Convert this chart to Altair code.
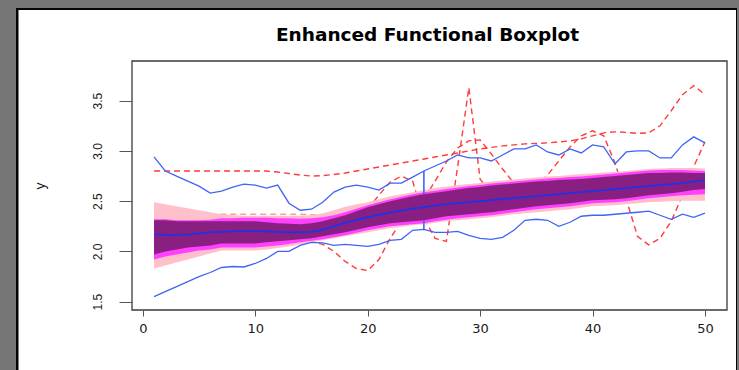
import altair as alt
import pandas as pd

title_text = ["Enhanced Functional Boxplot"]

x_vals = list(range(1, 51))

upper_whisker = [2.94, 2.80, 2.75, 2.70, 2.65, 2.58, 2.60, 2.64, 2.67, 2.66,
                 2.63, 2.66, 2.48, 2.41, 2.42, 2.49, 2.59, 2.64, 2.66, 2.64,
                 2.61, 2.68, 2.68, 2.74, 2.80, 2.85, 2.90, 2.96, 2.93, 2.93,
                 2.90, 2.96, 3.02, 3.02, 3.06, 2.99, 2.96, 3.02, 2.98, 3.06,
                 3.04, 2.87, 2.99, 3.00, 3.00, 2.93, 2.93, 3.06, 3.14, 3.08]
lower_whisker = [1.55, 1.60, 1.65, 1.70, 1.75, 1.79, 1.84, 1.85, 1.845, 1.88,
                 1.93, 2.00, 2.00, 2.06, 2.09, 2.085, 2.06, 2.07, 2.06, 2.05,
                 2.07, 2.11, 2.12, 2.21, 2.22, 2.19, 2.19, 2.20, 2.16, 2.13,
                 2.12, 2.14, 2.21, 2.31, 2.32, 2.31, 2.25, 2.29, 2.35, 2.36,
                 2.36, 2.37, 2.38, 2.39, 2.40, 2.36, 2.32, 2.37, 2.34, 2.38]
median = [2.17, 2.165, 2.165, 2.17, 2.18, 2.19, 2.195, 2.20, 2.205, 2.205,
          2.20, 2.195, 2.19, 2.19, 2.195, 2.215, 2.25, 2.285, 2.315, 2.34,
          2.365, 2.385, 2.405, 2.425, 2.44, 2.455, 2.47, 2.48, 2.49, 2.50,
          2.51, 2.52, 2.53, 2.54, 2.55, 2.56, 2.57, 2.58, 2.59, 2.60,
          2.61, 2.62, 2.63, 2.64, 2.65, 2.66, 2.67, 2.68, 2.695, 2.71]

# central regions: 50% (dark), middle (magenta), outer (pink)
dark_top = [2.31, 2.31, 2.30, 2.30, 2.30, 2.30, 2.30, 2.30, 2.30, 2.30,
            2.29, 2.28, 2.275, 2.27, 2.28, 2.30, 2.33, 2.36, 2.40, 2.44,
            2.47, 2.50, 2.525, 2.55, 2.57, 2.585, 2.60, 2.615, 2.63, 2.64,
            2.655, 2.665, 2.675, 2.685, 2.695, 2.70, 2.71, 2.715, 2.72, 2.73,
            2.74, 2.75, 2.76, 2.77, 2.78, 2.78, 2.785, 2.785, 2.78, 2.78]
dark_bot = [1.97, 2.00, 2.02, 2.04, 2.05, 2.06, 2.08, 2.08, 2.08, 2.08,
            2.09, 2.10, 2.11, 2.12, 2.13, 2.15, 2.17, 2.19, 2.215, 2.24,
            2.26, 2.28, 2.29, 2.30, 2.31, 2.33, 2.35, 2.36, 2.37, 2.38,
            2.39, 2.405, 2.42, 2.435, 2.45, 2.46, 2.47, 2.48, 2.495, 2.51,
            2.515, 2.52, 2.53, 2.545, 2.56, 2.57, 2.58, 2.595, 2.61, 2.62]
mag_top = [2.32, 2.32, 2.31, 2.31, 2.31, 2.315, 2.33, 2.33, 2.335, 2.335,
           2.335, 2.33, 2.33, 2.325, 2.33, 2.34, 2.36, 2.39, 2.425, 2.46,
           2.49, 2.52, 2.545, 2.57, 2.59, 2.605, 2.62, 2.635, 2.65, 2.66,
           2.675, 2.685, 2.695, 2.705, 2.715, 2.725, 2.73, 2.74, 2.745, 2.755,
           2.765, 2.775, 2.785, 2.795, 2.805, 2.81, 2.81, 2.81, 2.805, 2.80]
mag_bot = [1.92, 1.95, 1.97, 1.99, 2.01, 2.02, 2.04, 2.04, 2.04, 2.04,
           2.05, 2.06, 2.075, 2.09, 2.105, 2.12, 2.14, 2.16, 2.185, 2.21,
           2.23, 2.25, 2.26, 2.27, 2.28, 2.30, 2.315, 2.33, 2.34, 2.35,
           2.36, 2.375, 2.39, 2.405, 2.42, 2.43, 2.44, 2.45, 2.465, 2.48,
           2.485, 2.49, 2.50, 2.515, 2.53, 2.54, 2.55, 2.56, 2.565, 2.57]
pink_top = [2.49, 2.47, 2.45, 2.43, 2.41, 2.39, 2.37, 2.36, 2.355, 2.355,
            2.355, 2.355, 2.355, 2.355, 2.36, 2.38, 2.41, 2.445, 2.47, 2.49,
            2.52, 2.55, 2.57, 2.59, 2.61, 2.63, 2.645, 2.66, 2.67, 2.68,
            2.695, 2.705, 2.715, 2.725, 2.735, 2.745, 2.75, 2.76, 2.77, 2.775,
            2.785, 2.79, 2.80, 2.81, 2.82, 2.825, 2.83, 2.83, 2.83, 2.825]
pink_bot = [1.83, 1.86, 1.89, 1.92, 1.95, 1.98, 2.01, 2.01, 2.01, 2.01,
            2.02, 2.035, 2.05, 2.07, 2.09, 2.11, 2.13, 2.15, 2.17, 2.19,
            2.21, 2.23, 2.245, 2.26, 2.27, 2.285, 2.30, 2.31, 2.32, 2.33,
            2.34, 2.355, 2.37, 2.38, 2.39, 2.40, 2.41, 2.42, 2.435, 2.45,
            2.455, 2.46, 2.47, 2.48, 2.49, 2.495, 2.50, 2.505, 2.505, 2.505]

# outlying curves (red dashed): start x and values
out_a_start, out_a = 1, [2.80, 2.80, 2.80, 2.80, 2.80, 2.80, 2.80, 2.80, 2.80, 2.80,
                         2.80, 2.79, 2.775, 2.76, 2.75, 2.755, 2.765, 2.78, 2.80, 2.82,
                         2.84, 2.86, 2.88, 2.90, 2.92, 2.94, 2.96, 2.98, 3.00, 3.02,
                         3.035, 3.05, 3.06, 3.07, 3.075, 3.08, 3.09, 3.10, 3.12, 3.15,
                         3.18, 3.19, 3.185, 3.175, 3.18, 3.25, 3.40, 3.56, 3.65, 3.56]
out_b_start, out_b = 14, [2.15, 2.10, 2.07, 2.00, 1.90, 1.83, 1.81, 1.92, 2.13, 2.30,
                          2.42, 2.52, 2.70, 2.89, 3.03, 3.10, 3.11, 2.97, 2.82, 2.68, 2.62]
out_f_start, out_f = 20, [2.42, 2.56, 2.69, 2.75, 2.70, 2.33, 2.13, 2.10, 2.84, 3.63, 2.72, 2.58]
out_c_start, out_c = 33, [2.60, 2.62, 2.66, 2.76, 2.90, 3.04, 3.15, 3.20, 3.15, 2.88,
                          2.52, 2.15, 2.065, 2.13, 2.30, 2.56, 2.845, 3.09]
out_g_start, out_g = 6, [2.365, 2.37, 2.37, 2.37, 2.37, 2.37, 2.37, 2.37, 2.37, 2.365, 2.36]

x_ticks = [0, 10, 20, 30, 40, 50]
y_ticks = [1.5, 2.0, 2.5, 3.0, 3.5]
mid_index = 24  # x = 25

# ---------------- data tables ----------------
bands = pd.DataFrame({"x": x_vals, "dark_top": dark_top, "dark_bot": dark_bot,
                      "mag_top": mag_top, "mag_bot": mag_bot,
                      "pink_top": pink_top, "pink_bot": pink_bot,
                      "median": median})
rows = []
for name, start, vals in [("A", out_a_start, out_a), ("B", out_b_start, out_b),
                          ("F", out_f_start, out_f), ("C", out_c_start, out_c)]:
    for i, v in enumerate(vals):
        rows.append({"curve": name, "x": start + i, "y": v})
outliers = pd.DataFrame(rows)
faint = pd.DataFrame({"x": [out_g_start + i for i in range(len(out_g))], "y": out_g})
wrows = []
for i, x in enumerate(x_vals):
    wrows.append({"w": "upper", "x": x, "y": upper_whisker[i]})
    wrows.append({"w": "lower", "x": x, "y": lower_whisker[i]})
whiskers = pd.DataFrame(wrows)
xm = x_vals[mid_index]
connectors = pd.DataFrame({"x": [xm, xm],
                           "y": [upper_whisker[mid_index], dark_bot[mid_index]],
                           "y2": [dark_top[mid_index], lower_whisker[mid_index]]})
one = pd.DataFrame({"k": [0]})
title_df = pd.DataFrame({"t": title_text})

# ---------------- scales/axes ----------------
W, H = 595, 249
xscale = alt.Scale(domain=[-0.96, 51.96], nice=False, zero=False)
yscale = alt.Scale(domain=[1.417, 3.895], nice=False, zero=False)
xaxis = alt.Axis(values=x_ticks, title=None, domain=False, grid=False,
                 tickSize=6, tickColor="#555555", tickWidth=1,
                 labelFont="DejaVu Sans", labelFontSize=13, labelColor="#1a1a1a",
                 labelPadding=6, zindex=1)
yaxis = alt.Axis(values=y_ticks, format=".1f", title="y", domain=False, grid=False,
                 tickSize=13, tickColor="#555555", tickWidth=1,
                 labelFont="Liberation Sans", labelFontSize=12, labelColor="#1a1a1a",
                 labelAngle=270, labelAlign="center", labelBaseline="bottom",
                 labelPadding=15, titleFont="Liberation Sans", titleFontSize=14,
                 titleFontWeight="normal", titleColor="#1a1a1a", titlePadding=44,
                 zindex=1)


def X(field="x"):
    return alt.X(f"{field}:Q", scale=xscale, axis=xaxis)


def Y(field):
    return alt.Y(f"{field}:Q", scale=yscale, axis=yaxis)


# ---------------- page decoration ----------------
page_border = alt.Chart(one).mark_rect(color="#050505").encode(
    x=alt.value(-116), x2=alt.value(605), y=alt.value(-53), y2=alt.value(309))
page = alt.Chart(one).mark_rect(color="white").encode(
    x=alt.value(-113.5), x2=alt.value(604), y=alt.value(-51), y2=alt.value(309))
frame = alt.Chart(one).mark_rect(fillOpacity=0, stroke="#3a3a3a", strokeWidth=1.3).encode(
    x=alt.value(0), x2=alt.value(W), y=alt.value(0), y2=alt.value(H))
title = alt.Chart(title_df).mark_text(
    font="DejaVu Sans", fontSize=18.5, fontWeight="bold", color="#000000",
    align="center", baseline="alphabetic").encode(
    text="t:N", x=alt.value(W / 2 - 2), y=alt.value(-20))

# ---------------- data layers ----------------
dash = [6, 4]
out_lines = alt.Chart(outliers).mark_line(color="#ff3b3b", strokeWidth=1.4, strokeDash=dash).encode(
    x=X(), y=Y("y"), detail="curve:N")
faint_line = alt.Chart(faint).mark_line(color="#ff5a5a", strokeWidth=1.4, strokeDash=dash, opacity=0.6).encode(
    x=X(), y=Y("y"))
pink = alt.Chart(bands).mark_area(color="#ffc0cb", opacity=1).encode(
    x=X(), y=Y("pink_top"), y2="pink_bot:Q")
mag = alt.Chart(bands).mark_area(color="#ff40ff", opacity=1).encode(
    x=X(), y=Y("mag_top"), y2="mag_bot:Q")
dark = alt.Chart(bands).mark_area(color="#891f80", opacity=1).encode(
    x=X(), y=Y("dark_top"), y2="dark_bot:Q")
med = alt.Chart(bands).mark_line(color="#1f33e6", strokeWidth=1.8).encode(
    x=X(), y=Y("median"))
whisk = alt.Chart(whiskers).mark_line(color="#4064f5", strokeWidth=1.3).encode(
    x=X(), y=Y("y"), detail="w:N")
conn = alt.Chart(connectors).mark_rule(color="#4064f5", strokeWidth=1.6).encode(
    x=X(), y=Y("y"), y2="y2:Q")

chart = alt.layer(
    page_border, page, out_lines, faint_line, pink, mag, dark, whisk, med, conn, frame, title
).properties(
    width=W, height=H,
    padding={"left": 132, "top": 61, "right": 12, "bottom": 60},
    autosize=alt.AutoSizeParams(type="none"),
    background="#767676",
).configure_view(stroke=None)

chart.save("out.html", embed_options={"renderer": "svg", "actions": False})
